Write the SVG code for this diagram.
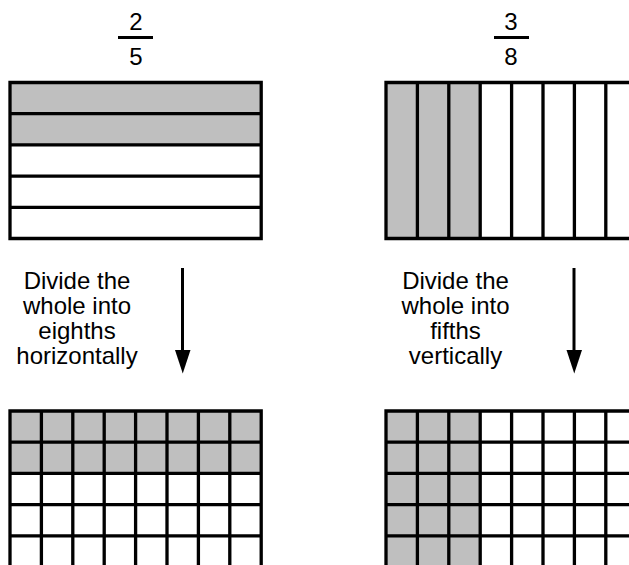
<svg xmlns="http://www.w3.org/2000/svg" width="629" height="565" viewBox="0 0 629 565">
<defs>
<style>
.shade{fill:#bfbfbf;stroke:none}
.grid{fill:none;stroke:#000;stroke-width:3.3;stroke-linecap:square}
.num{font-family:"Liberation Sans",Arial,sans-serif;font-size:24px;fill:#000;text-anchor:middle}
.bar{stroke:#000;stroke-width:3}
.lbl{font-family:"Liberation Sans",Arial,sans-serif;font-size:24px;fill:#000;text-anchor:middle}
.arrow{stroke:#000;stroke-width:3;fill:none}
</style>
</defs>
<rect x="0" y="0" width="629" height="565" fill="#fff"/>

<g id="fraction-2-5">
<text class="num" x="136" y="29.5">2</text>
<line class="bar" x1="118" y1="37.5" x2="153" y2="37.5"/>
<text class="num" x="136" y="65">5</text>
</g>

<g id="fraction-3-8">
<text class="num" x="511" y="29.5">3</text>
<line class="bar" x1="494" y1="37.5" x2="529" y2="37.5"/>
<text class="num" x="511" y="65">8</text>
</g>

<g id="bar-fifths">
<rect class="shade" x="10" y="82.5" width="251.2" height="62.4"/>
<path class="grid" d="M10,82.5 H261.2 V238.5 H10 Z M10,113.7 H261.2 M10,144.9 H261.2 M10,176.1 H261.2 M10,207.3 H261.2"/>
</g>

<g id="bar-eighths">
<rect class="shade" x="386" y="82.5" width="94.2" height="156"/>
<path class="grid" d="M386,82.5 H637.2 V238.5 H386 Z M417.4,82.5 V238.5 M448.8,82.5 V238.5 M480.2,82.5 V238.5 M511.6,82.5 V238.5 M543,82.5 V238.5 M574.4,82.5 V238.5 M605.8,82.5 V238.5"/>
</g>

<g id="label-left">
<text class="lbl" x="77" y="288.5">Divide the</text>
<text class="lbl" x="77" y="313.5">whole into</text>
<text class="lbl" x="77" y="338.5">eighths</text>
<text class="lbl" x="77" y="363.5">horizontally</text>
</g>

<g id="label-right">
<text class="lbl" x="455.5" y="288.5">Divide the</text>
<text class="lbl" x="455.5" y="313.5">whole into</text>
<text class="lbl" x="455.5" y="338.5">fifths</text>
<text class="lbl" x="455.5" y="363.5">vertically</text>
</g>

<g id="grid-left">
<rect class="shade" x="10" y="411" width="251.2" height="62.4"/>
<path class="grid" d="M10,411 H261.2 V570 M10,411 V570 M10,442.2 H261.2 M10,473.4 H261.2 M10,504.6 H261.2 M10,535.8 H261.2 M41.4,411 V570 M72.8,411 V570 M104.2,411 V570 M135.6,411 V570 M167,411 V570 M198.4,411 V570 M229.8,411 V570"/>
</g>

<g id="grid-right">
<rect class="shade" x="386" y="411" width="94.2" height="160"/>
<path class="grid" d="M386,411 H640 M386,411 V570 M386,442.2 H640 M386,473.4 H640 M386,504.6 H640 M386,535.8 H640 M417.4,411 V570 M448.8,411 V570 M480.2,411 V570 M511.6,411 V570 M543,411 V570 M574.4,411 V570 M605.8,411 V570"/>
</g>

<g id="connectors">
<line class="arrow" x1="182.5" y1="268" x2="182.5" y2="352"/>
<path d="M175,350 L190.5,350 L182.75,373.5 Z" fill="#000"/>
<line class="arrow" x1="574" y1="268" x2="574" y2="352"/>
<path d="M566.5,350 L582,350 L574.25,373.5 Z" fill="#000"/>
</g>
</svg>
